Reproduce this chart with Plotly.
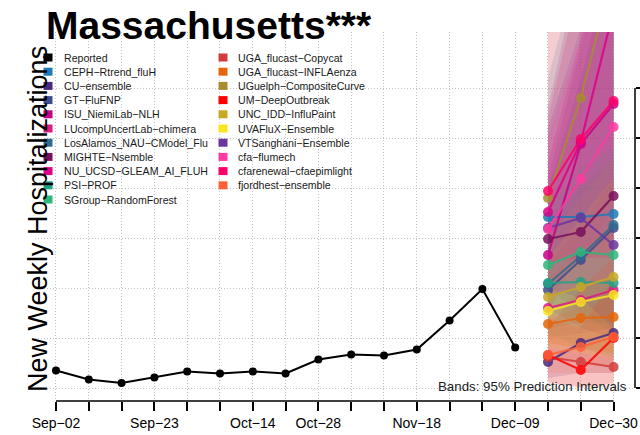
import pandas as pd
import plotly.graph_objects as go

# weekly reported hospitalizations (Massachusetts)
reported_dates = ["2023-09-02", "2023-09-09", "2023-09-16", "2023-09-23", "2023-09-30",
                  "2023-10-07", "2023-10-14", "2023-10-21", "2023-10-28", "2023-11-04",
                  "2023-11-11", "2023-11-18", "2023-11-25", "2023-12-02", "2023-12-09"]
reported_values = [35, 17, 10, 21, 33, 29, 33, 29, 57, 67, 65, 77, 135, 198, 81]

forecast_dates = ["2023-12-16", "2023-12-23", "2023-12-30"]

model_names = ["CEPH−Rtrend_fluH", "CU−ensemble", "GT−FluFNP", "ISU_NiemiLab−NLH",
               "LUcompUncertLab−chimera", "LosAlamos_NAU−CModel_Flu", "MIGHTE−Nsemble",
               "NU_UCSD−GLEAM_AI_FLUH", "PSI−PROF", "SGroup−RandomForest",
               "UGA_flucast−Copycat", "UGA_flucast−INFLAenza", "UGuelph−CompositeCurve",
               "UM−DeepOutbreak", "UNC_IDD−InfluPaint", "UVAFluX−Ensemble",
               "VTSanghani−Ensemble", "cfa−flumech", "cfarenewal−cfaepimlight",
               "fjordhest−ensemble"]
model_colors = ["#1B7BB8", "#4A2A7E", "#3E4C8C", "#C9008A", "#DE1A80", "#2F6C8E",
                "#7A0F5C", "#DD0088", "#21A287", "#2DB77B", "#D23C3C", "#E6650A",
                "#A98B30", "#FF0000", "#C9A825", "#FBE51E", "#6B35A0", "#FF3AA0",
                "#FF0068", "#FF6038"]

# medians per forecast week (one value per model, same order as model_names)
median_dec16 = [342, 52, 196, 266, 160, 208, 298, 352, 210, 246, 62, 128, 380, 66, 182, 154, 320, 318, 394, 66]
median_dec23 = [342, 90, 256, 488, 176, 264, 312, 492, 212, 272, 52, 140, 580, 36, 202, 172, 340, 418, 498, 82]
median_dec30 = [348, 110, 320, 568, 196, 326, 384, 756, 210, 266, 42, 142, 834, 100, 222, 186, 286, 522, 574, 102]

# 95% prediction interval bounds
lower_dec16 = [200, 20, 100, 150, 90, 120, 160, 200, 110, 150, 8, 60, 220, 12, 90, 80, 200, 180, 250, 30]
lower_dec23 = [150, 30, 110, 280, 80, 130, 120, 260, 80, 140, 4, 50, 300, 0, 80, 70, 180, 200, 260, 30]
lower_dec30 = [110, 30, 120, 300, 70, 130, 100, 360, 60, 120, 0, 40, 400, 10, 70, 60, 120, 220, 260, 30]
upper_dec16 = [620, 120, 420, 450, 250, 400, 560, 540, 340, 360, 140, 220, 740, 140, 300, 260, 520, 500, 780, 140]
upper_dec23 = [860, 200, 680, 700, 320, 620, 860, 820, 400, 440, 160, 280, 1300, 120, 380, 340, 720, 700, 900, 200]
upper_dec30 = [1150, 260, 980, 1000, 420, 880, 1250, 1400, 460, 480, 180, 330, 2000, 220, 460, 420, 880, 1100, 1300, 260]

week_ticks = ["2023-09-02", "2023-09-09", "2023-09-16", "2023-09-23", "2023-09-30", "2023-10-07",
              "2023-10-14", "2023-10-21", "2023-10-28", "2023-11-04", "2023-11-11", "2023-11-18",
              "2023-11-25", "2023-12-02", "2023-12-09", "2023-12-16", "2023-12-23", "2023-12-30"]
week_labels = ["Sep−02", "", "", "Sep−23", "", "", "Oct−14", "", "Oct−28", "", "",
               "Nov−18", "", "", "Dec−09", "", "", "Dec−30"]
y_ticks = [0, 100, 200, 300, 400, 500, 600]

x_range = ["2023-08-28 12:30", "2024-01-03 13:40"]
y_range = [-26, 712]

W, H = 640, 435
L, R, T, B = 35, 5, 32, 34
FONT = "Liberation Sans"


# positions below are page pixels; plot area spans x 35..635, y 32..401
def px_x(px):
    return (px - L) / (W - L - R)


def px_y(py):
    return (H - B - py) / (H - T - B)


def date_frac(d):
    t0, t1 = pd.Timestamp(x_range[0]), pd.Timestamp(x_range[1])
    return (pd.Timestamp(d) - t0) / (t1 - t0)


def value_frac(v):
    return (v - y_range[0]) / (y_range[1] - y_range[0])


def rgba(hex_color, a):
    h = hex_color.lstrip("#")
    return "rgba(%d,%d,%d,%s)" % (int(h[0:2], 16), int(h[2:4], 16), int(h[4:6], 16), a)


fig = go.Figure()

# prediction bands
for i, name in enumerate(model_names):
    lo = [lower_dec16[i], lower_dec23[i], lower_dec30[i]]
    hi = [upper_dec16[i], upper_dec23[i], upper_dec30[i]]
    fig.add_trace(go.Scatter(x=forecast_dates + forecast_dates[::-1], y=hi + lo[::-1],
                             fill="toself", fillcolor=rgba(model_colors[i], 0.14),
                             line=dict(width=0), mode="lines", hoverinfo="skip"))

# median forecasts
for i, name in enumerate(model_names):
    med = [median_dec16[i], median_dec23[i], median_dec30[i]]
    fig.add_trace(go.Scatter(x=forecast_dates, y=med, mode="lines+markers", name=name,
                             line=dict(color=model_colors[i], width=2.2),
                             marker=dict(color=model_colors[i], size=10), opacity=0.85))

fig.add_trace(go.Scatter(x=reported_dates, y=reported_values, mode="lines+markers",
                         name="Reported", line=dict(color="black", width=2),
                         marker=dict(color="black", size=8)))

fig.update_xaxes(range=x_range, tickvals=week_ticks,
                 ticktext=week_labels, ticks="outside", ticklen=9, tickwidth=1.5,
                 tickcolor="black", showline=False, zeroline=False, automargin=False,
                 showgrid=True, gridcolor="#c4c4c4", griddash="1px,2px", gridwidth=1,
                 tickfont=dict(family=FONT, size=14, color="black"))
fig.update_yaxes(range=y_range, side="right", tickvals=y_ticks, ticks="outside",
                 ticklen=4, tickwidth=1.5, tickcolor="black", showticklabels=False,
                 showline=False, zeroline=False, automargin=False, showgrid=True,
                 gridcolor="#c4c4c4", griddash="1px,2px", gridwidth=1)

# axis lines spanning first to last tick (paper refs so they are not clipped)
fig.add_shape(type="line", xref="paper", yref="paper", x0=date_frac(week_ticks[0]),
              x1=date_frac(week_ticks[-1]), y0=0, y1=0, line=dict(color="black", width=1.5))
fig.add_shape(type="line", xref="paper", yref="paper", x0=1, x1=1,
              y0=value_frac(y_ticks[0]), y1=value_frac(y_ticks[-1]),
              line=dict(color="black", width=1.5))

# legend drawn in two columns
legend_names = ["Reported"] + model_names
legend_colors = ["black"] + model_colors
for i, name in enumerate(legend_names):
    col, row = (0, i) if i < 11 else (1, i - 11)
    ypx = 57.5 + row * 14.2
    sx = 43.5 if col == 0 else 218.5
    tx = 61.5 if col == 0 else 235.5
    fig.add_shape(type="rect", xref="paper", yref="paper", x0=px_x(sx), x1=px_x(sx + 9),
                  y0=px_y(ypx + 4), y1=px_y(ypx - 4), fillcolor=legend_colors[i],
                  line=dict(width=0))
    fig.add_annotation(xref="paper", yref="paper", x=px_x(tx), y=px_y(ypx), text=name,
                       showarrow=False, xanchor="left", yanchor="middle",
                       font=dict(family=FONT, size=10.6, color="#1a1a1a"))

fig.add_annotation(xref="paper", yref="paper", x=px_x(44), y=px_y(25),
                   text="<b>Massachusetts***</b>", showarrow=False, xanchor="left",
                   yanchor="middle", font=dict(family=FONT, size=39, color="black"))
fig.add_annotation(xref="paper", yref="paper", x=px_x(21), y=px_y(219),
                   text="New Weekly Hospitalizations", textangle=-90, showarrow=False,
                   font=dict(family=FONT, size=27, color="black"))
fig.add_annotation(xref="paper", yref="paper", x=px_x(629), y=px_y(386),
                   text="Bands: 95% Prediction Intervals", showarrow=False, xanchor="right",
                   yanchor="middle", font=dict(family=FONT, size=13.3, color="#1a1a1a"))

fig.update_layout(width=W, height=H, margin=dict(l=L, r=R, t=T, b=B),
                  plot_bgcolor="white", paper_bgcolor="white", showlegend=False)

# drop the page's default body margin so the 640x435 figure fills the window exactly
fig.write_html("out.html", config={"displayModeBar": False},
               post_script="document.body.style.margin='0';"
               "document.documentElement.style.overflow='hidden';")
